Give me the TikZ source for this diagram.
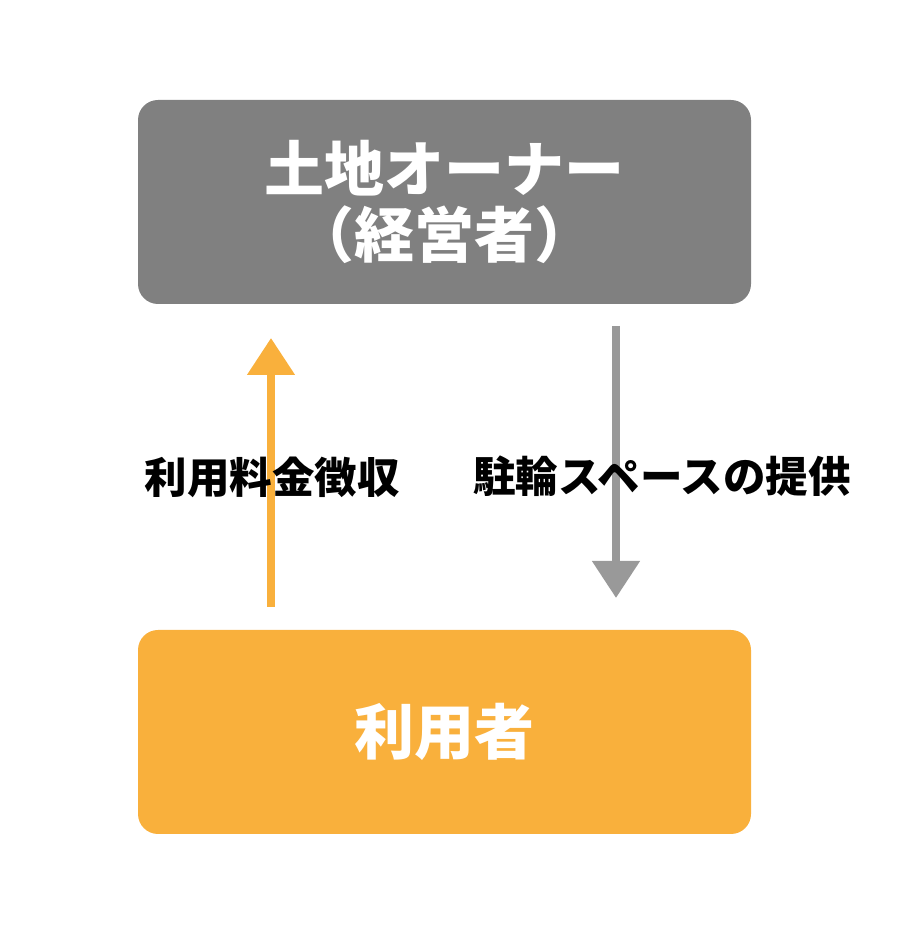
\documentclass[tikz,border=0pt]{standalone}
\usepackage{fontspec}
\setmainfont{Noto Sans CJK JP}
\usetikzlibrary{arrows.meta}
\definecolor{ownergray}{HTML}{808080}
\definecolor{usergold}{HTML}{F9B03C}
\definecolor{arrowgray}{HTML}{999999}
\tikzset{
    party/.style={rounded corners=20pt, minimum width=613pt, minimum height=204pt,
        text=white, font=\fontsize{60}{66}\selectfont\bfseries, align=center},
    flow/.style={line width=8pt, -{Triangle[length=37pt,width=46pt]}},
    flowlabel/.style={font=\fontsize{42.5}{50}\selectfont\bfseries}
}
\begin{document}
\begin{tikzpicture}[x=1pt,y=1pt]

    \useasboundingbox (0,0) rectangle (917,949);

    \node[party, fill=ownergray] (owner) at (444.5,747) {土地オーナー\\（経営者）};
    \node[party, fill=usergold] (user) at (444.5,217) {利用者};

    \coordinate (payfrom) at (271,342);
    \coordinate (payto) at (271,611);
    \coordinate (spacefrom) at (616,623);
    \coordinate (spaceto) at (616,351);

    \draw[flow, usergold] (payfrom) -- (payto);
    \draw[flow, arrowgray] (spacefrom) -- (spaceto);

    \node[flowlabel] (pay) at (272,472) {利用料金徴収};
    \node[flowlabel] (space) at (662,473) {駐輪スペースの提供};
\end{tikzpicture}
\end{document}
